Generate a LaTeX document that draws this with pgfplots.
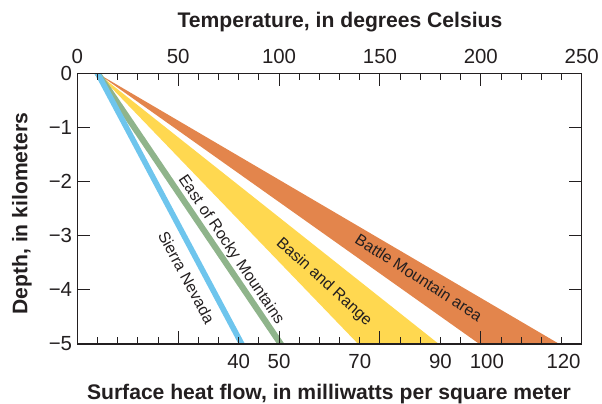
\documentclass[border=0pt]{standalone}
\usepackage{fontspec}
\setmainfont{Liberation Sans}
\usepackage{pgfplots}
\pgfplotsset{compat=1.18}
\definecolor{cblue}{RGB}{110,197,237}
\definecolor{cgreen}{RGB}{143,180,139}
\definecolor{cyellow}{RGB}{255,216,80}
\definecolor{corange}{RGB}{227,133,76}
\definecolor{axc}{RGB}{35,31,32}
\begin{document}
\begin{tikzpicture}
\useasboundingbox (0,0) rectangle (602bp,404bp);
\begin{axis}[
  at={(77.3bp,60bp)}, anchor=south west,
  scale only axis, width=504.4bp, height=270.7bp,
  xmin=0, xmax=250, ymin=-5, ymax=0,
  axis on top,
  axis line style={axc, line width=1.1pt},
  xtick={0,50,100,150,200,250},
  xticklabels={0,50,100,150,200,250},
  minor xtick={10,20,30,40,60,70,80,90,110,120,130,140,160,170,180,190,210,220,230,240},
  xticklabel pos=upper,
  xtick pos=both,
  ytick={-5,-4,-3,-2,-1,0},
  yticklabels={−5,−4,−3,−2,−1,0},
  ytick pos=both,
  yticklabel pos=left,
  tick align=inside,
  x tick style={axc, line width=0.9pt},
  y tick style={axc, line width=0.9pt},
  major tick length=12.5bp, minor tick length=6.5bp,
  ticklabel style={font=\fontsize{20.5}{24}\selectfont, text=axc, inner sep=0pt},
  xticklabel style={yshift=9.3bp},
  yticklabel style={xshift=-5bp},
]
\addplot[fill=corange, draw=none] coordinates {(10,0) (238.9,-5) (199.3,-5)};
\addplot[fill=cyellow, draw=none] coordinates {(10,0) (179.2,-5) (139.2,-5)};
\addplot[fill=cgreen, draw=none] coordinates {(8.3,0) (11.9,0) (102.7,-5) (99.0,-5)};
\addplot[fill=cblue, draw=none] coordinates {(8.5,0) (11.6,0) (83.1,-5) (79.9,-5)};
\node[rotate=-61.9, text=axc, font=\fontsize{16}{18}\selectfont] at (axis cs:54.2,-3.77) {Sierra Nevada};
\node[rotate=-55.9, text=axc, font=\fontsize{16}{18}\selectfont] at (axis cs:76.1,-3.26) {East of Rocky Mountains};
\node[rotate=-42, text=axc, font=\fontsize{16}{18}\selectfont] at (axis cs:122.2,-3.855) {Basin and Range};
\node[rotate=-32.7, text=axc, font=\fontsize{16}{18}\selectfont] at (axis cs:169.3,-3.77) {Battle Mountain area};
\end{axis}
\begin{axis}[
  at={(77.3bp,60bp)}, anchor=south west,
  scale only axis, width=504.4bp, height=270.7bp,
  xmin=0, xmax=250, ymin=-5, ymax=0,
  hide y axis,
  axis x line*=bottom,
  x axis line style={draw=none},
  xtick={80,100,140,180,203,241},
  xticklabels={40,50,70,90,100,120},
  major tick length=0pt,
  xtick style={draw=none},
  ticklabel style={font=\fontsize{20.5}{24}\selectfont, text=axc, inner sep=0pt},
  xticklabel style={yshift=-10.4bp},
]
\end{axis}
\node[anchor=base, text=axc, font=\fontsize{21.2}{24}\selectfont\bfseries] at (340bp,376.3bp) {Temperature, in degrees Celsius};
\node[anchor=base, text=axc, font=\fontsize{21.2}{24}\selectfont\bfseries] at (329bp,5bp) {Surface heat flow, in milliwatts per square meter};
\node[anchor=base, rotate=90, text=axc, font=\fontsize{21.2}{24}\selectfont\bfseries] at (27.3bp,190.5bp) {Depth, in kilometers};
\end{tikzpicture}
\end{document}
